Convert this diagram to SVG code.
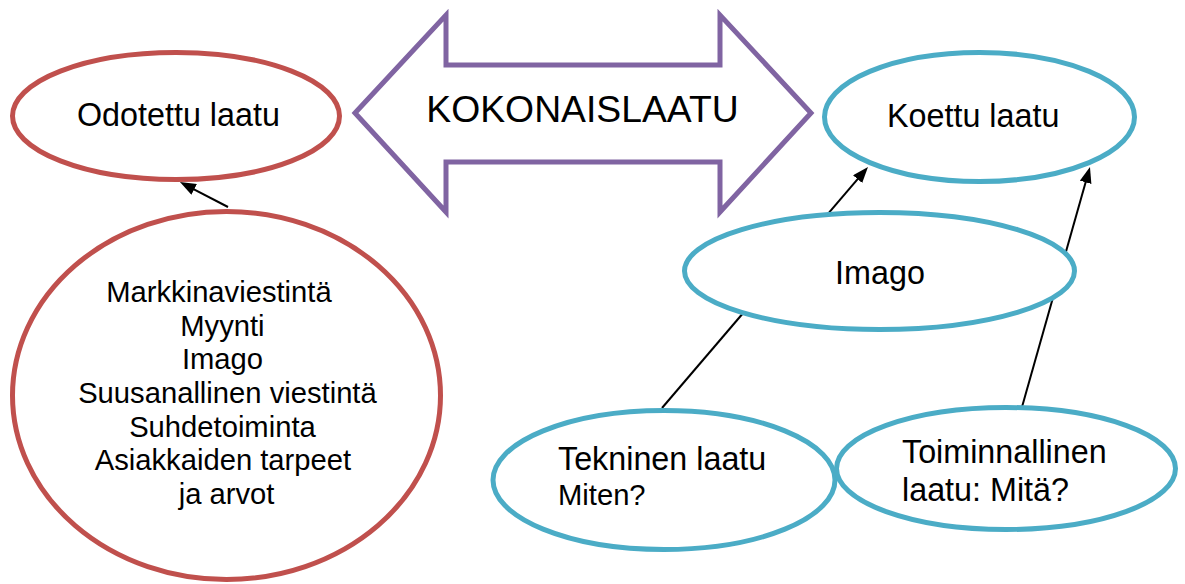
<svg xmlns="http://www.w3.org/2000/svg" width="1185" height="584" viewBox="0 0 1185 584">
<style>
text { font-family: "Liberation Sans", Arial, sans-serif; fill: #000; }
.red { fill: #fff; stroke: #C0504D; stroke-width: 5; }
.blue { fill: #fff; stroke: #4BACC6; stroke-width: 5; }
.conn { stroke: #000; stroke-width: 2; fill: none; marker-end: url(#ah); }
.t31 { font-size: 32.3px; }
.t29 { font-size: 29.2px; }
</style>
<defs>
<marker id="ah" markerUnits="userSpaceOnUse" markerWidth="16" markerHeight="12" refX="4" refY="6" orient="auto">
<path d="M0,0 L16,6 L0,12 z" fill="#000"/>
</marker>
</defs>
<rect width="1185" height="584" fill="#fff"/>
<g id="connectors">
<line class="conn" x1="228" y1="207" x2="190.6" y2="187.6"/>
<line class="conn" x1="662" y1="408" x2="860.2" y2="176.1"/>
<line class="conn" x1="1022" y1="407" x2="1086.7" y2="178.5"/>
</g>
<g id="kokonaislaatu">
<polygon points="355,113 446,15 446,65 720,65 720,15 811,113 720,212 720,162 446,162 446,212" fill="#fff" stroke="#8064A2" stroke-width="5" stroke-linejoin="miter"/>
<text x="582.5" y="122" font-size="37.3" text-anchor="middle">KOKONAISLAATU</text>
</g>
<g id="odotettu">
<ellipse class="red" cx="176" cy="116" rx="163.5" ry="63.5"/>
<text class="t31" x="77" y="126">Odotettu laatu</text>
</g>
<g id="tekijat">
<ellipse class="red" cx="226.5" cy="395.5" rx="214" ry="184"/>
<text class="t29" text-anchor="middle" x="226">
<tspan x="223" y="301.5">Markkinaviestintä</tspan>
<tspan x="226.5" y="335.5">Myynti</tspan>
<tspan x="226.5" y="369">Imago</tspan>
<tspan x="231.5" y="403">Suusanallinen viestintä</tspan>
<tspan x="226.5" y="436.5">Suhdetoiminta</tspan>
<tspan x="227" y="470">Asiakkaiden tarpeet</tspan>
<tspan x="226.5" y="504">ja arvot</tspan>
</text>
</g>
<g id="koettu">
<ellipse class="blue" cx="979.5" cy="117" rx="155" ry="64.5"/>
<text class="t31" x="887" y="127">Koettu laatu</text>
</g>
<g id="imago">
<ellipse class="blue" cx="879.5" cy="271" rx="195" ry="58.5"/>
<text class="t31" x="880" y="284" text-anchor="middle">Imago</text>
</g>
<g id="tekninen">
<ellipse class="blue" cx="664" cy="480" rx="171" ry="69.5"/>
<text class="t31" x="558" y="470">Tekninen laatu</text>
<text class="t29" x="558" y="505">Miten?</text>
</g>
<g id="toiminnallinen">
<ellipse class="blue" cx="1006" cy="468.5" rx="169.5" ry="61"/>
<text class="t31" x="902" y="463">Toiminnallinen</text>
<text class="t31" x="902" y="501">laatu: Mitä?</text>
</g>
</svg>
